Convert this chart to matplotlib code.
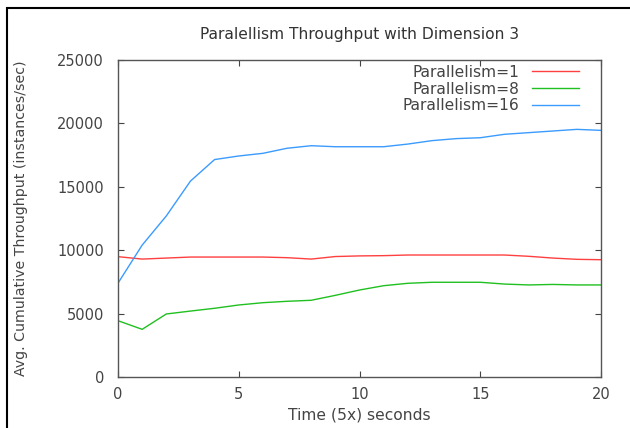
import matplotlib
matplotlib.use("Agg")
import matplotlib.pyplot as plt
from matplotlib.patches import Rectangle

time = list(range(21))
par1 = [9490, 9300, 9380, 9460, 9460, 9460, 9460, 9410, 9300, 9500, 9550,
        9570, 9620, 9620, 9620, 9620, 9620, 9520, 9380, 9280, 9250]
par8 = [4440, 3760, 4970, 5200, 5420, 5680, 5860, 5970, 6050, 6440, 6860,
        7200, 7390, 7470, 7470, 7470, 7330, 7260, 7300, 7260, 7260]
par16 = [7400, 10400, 12700, 15450, 17150, 17430, 17640, 18040, 18240, 18160, 18160,
         18160, 18370, 18640, 18800, 18870, 19140, 19270, 19400, 19530, 19450]
series = [("Parallelism=1", par1, "#ff4040"),
          ("Parallelism=8", par8, "#20c020"),
          ("Parallelism=16", par16, "#3b9bff")]
xticks = [0, 5, 10, 15, 20]
yticks = [0, 5000, 10000, 15000, 20000, 25000]

plt.rcParams['font.family'] = ['DejaVu Sans']
fig = plt.figure(figsize=(6.3, 4.28), dpi=100)
ax = fig.add_axes([118/630, 1-377/428, (601-118)/630, (377-60)/428])

for label, vals, col in series:
    ax.plot(time, vals, color=col, lw=1.0, label=label)

ax.set_xlim(0, 20)
ax.set_ylim(0, 25000)
ax.set_xticks(xticks)
ax.set_yticks(yticks)
ax.tick_params(direction='in', top=True, right=True, length=4, width=0.8,
               colors='#444444', labelsize=10.5, labelcolor='#444444')
ax.tick_params(axis='y', pad=10)
ax.tick_params(axis='x', pad=7)
for s in ax.spines.values():
    s.set_color('#555555')
    s.set_linewidth(1.0)

ax.set_title("Paralellism Throughput with Dimension 3", fontsize=11.2, color='#333333', pad=15)
ax.set_xlabel("Time (5x) seconds", fontsize=11.2, color='#444444', labelpad=4)
ax.set_ylabel("Avg. Cumulative Throughput (instances/sec)", fontsize=10.2, color='#444444', labelpad=21)

leg = ax.legend(loc='upper right', frameon=False, markerfirst=False, fontsize=11.2,
                handlelength=3.0, handletextpad=0.8, labelspacing=0.12,
                borderaxespad=0.0, bbox_to_anchor=(0.967, 1.005))
for t in leg.get_texts():
    t.set_color('#444444')

# screenshot frame (left and top edges)
fig.patches.append(Rectangle((7/630, -0.1), 1.2, 1 - 8/428 + 0.1, transform=fig.transFigure,
                             fill=False, edgecolor='black', lw=1.5))

fig.savefig("out.png", dpi=100)
